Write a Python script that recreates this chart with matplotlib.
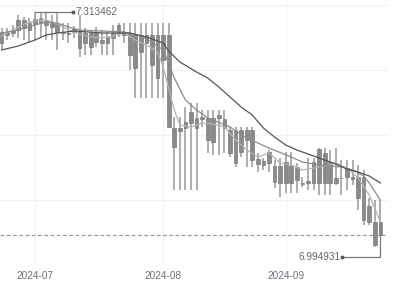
import numpy as np
import pandas as pd
import matplotlib
matplotlib.use('Agg')
import matplotlib.pyplot as plt

# 日线数据 (2024-06-21 ~ 2024-09-25, 交易日)
dates = pd.bdate_range('2024-06-21', periods=69)

opens = [7.2714, 7.2864, 7.2850, 7.2891, 7.3026, 7.2891, 7.2972, 7.2985, 7.3013, 7.2985,
         7.2972, 7.2864, 7.2850, 7.2864, 7.2864, 7.2714, 7.2850, 7.2728, 7.2755, 7.2714,
         7.2782, 7.2850, 7.2864, 7.2850, 7.2823, 7.2592, 7.2823, 7.2823, 7.2823, 7.2484,
         7.2823, 7.1562, 7.1522, 7.1562, 7.1630, 7.1698, 7.1691, 7.1698, 7.1372, 7.1698,
         7.1684, 7.1535, 7.1535, 7.1237, 7.1535, 7.1535, 7.1142, 7.1061, 7.1088, 7.1047,
         7.0817, 7.1101, 7.0817, 7.1034, 7.0817, 7.0817, 7.0817, 7.0817, 7.1223, 7.1101,
         7.0817, 7.0885, 7.0898, 7.0871, 7.0898, 7.0898, 7.0505, 7.0288, 7.0288]
closes = [7.2864, 7.2823, 7.2891, 7.3026, 7.2918, 7.2985, 7.3040, 7.3053, 7.2958, 7.2931,
          7.2864, 7.2850, 7.2843, 7.2904, 7.2647, 7.2850, 7.2660, 7.2864, 7.2714, 7.2796,
          7.2850, 7.2958, 7.2823, 7.2552, 7.2375, 7.2823, 7.2714, 7.2416, 7.2240, 7.2823,
          7.1576, 7.1305, 7.1562, 7.1644, 7.1779, 7.1562, 7.1711, 7.1400, 7.1698, 7.1738,
          7.1562, 7.1223, 7.1088, 7.1535, 7.1400, 7.1128, 7.1074, 7.1115, 7.1237, 7.0830,
          7.1047, 7.0817, 7.1047, 7.0857, 7.0803, 7.0844, 7.1101, 7.1278, 7.0817, 7.0817,
          7.0885, 7.0878, 7.1020, 7.0898, 7.0613, 7.0315, 7.0288, 6.9976, 7.0112]
lows = [7.2620, 7.2755, 7.2796, 7.2782, 7.2755, 7.2728, 7.2755, 7.2796, 7.2755, 7.2755,
        7.2620, 7.2755, 7.2714, 7.2782, 7.2525, 7.2552, 7.2552, 7.2660, 7.2552, 7.2552,
        7.2552, 7.2796, 7.2714, 7.2348, 7.1969, 7.1969, 7.1969, 7.1969, 7.1969, 7.1969,
        7.1576, 7.0722, 7.0722, 7.0722, 7.0722, 7.0722, 7.1576, 7.1223, 7.1196, 7.1196,
        7.1223, 7.1169, 7.1034, 7.1169, 7.1034, 7.1034, 7.0966, 7.0993, 7.0966, 7.0749,
        7.0627, 7.0681, 7.0681, 7.0681, 7.0762, 7.0722, 7.0722, 7.0654, 7.0654, 7.0654,
        7.0789, 7.0654, 7.0722, 7.0789, 7.0451, 7.0247, 7.0247, 6.994931, 7.0112]
highs = [7.2918, 7.2918, 7.2958, 7.3094, 7.3067, 7.3053, 7.313462, 7.3121, 7.3121, 7.3094,
         7.3121, 7.2985, 7.2985, 7.2945, 7.3094, 7.2918, 7.2891, 7.2931, 7.2891, 7.2864,
         7.2958, 7.2985, 7.2985, 7.2985, 7.2985, 7.2985, 7.2985, 7.2985, 7.2985, 7.2985,
         7.2985, 7.1711, 7.1711, 7.1847, 7.1901, 7.1901, 7.1806, 7.1806, 7.1806, 7.1806,
         7.1806, 7.1576, 7.1576, 7.1576, 7.1576, 7.1576, 7.1223, 7.1156, 7.1264, 7.1128,
         7.1156, 7.1237, 7.1237, 7.1088, 7.0898, 7.1156, 7.1156, 7.1291, 7.1291, 7.1264,
         7.1291, 7.1128, 7.1128, 7.1128, 7.1061, 7.0993, 7.0613, 7.0586, 7.0586]

# 均线 (读图取样)
ma5_idx = [0, 2, 4, 6, 8, 10, 12, 14, 16, 18, 20, 22, 24, 26, 28, 29, 30, 31, 32, 34,
           36, 38, 40, 42, 44, 46, 48, 50, 52, 54, 56, 58, 60, 62, 64, 66, 68]
ma5 = [7.2809, 7.2891, 7.2972, 7.3013, 7.3026, 7.2972, 7.2891, 7.2836, 7.2796, 7.2782,
       7.2809, 7.2850, 7.2755, 7.2687, 7.2592, 7.2389, 7.2104, 7.1806, 7.1603, 7.1576,
       7.1630, 7.1617, 7.1576, 7.1400, 7.1264, 7.1169, 7.1223, 7.1088, 7.1061, 7.0993,
       7.1020, 7.1047, 7.1088, 7.1020, 7.0885, 7.0654, 7.0288]
ma10_idx = [0, 3, 6, 8, 10, 12, 14, 18, 22, 25, 27, 29, 31, 33, 35, 37, 41, 44, 48, 52,
            54, 57, 61, 63, 65, 66, 68]
ma10 = [7.2850, 7.2891, 7.2958, 7.2999, 7.2985, 7.2931, 7.2891, 7.2877, 7.2864, 7.2809,
        7.2728, 7.2620, 7.2240, 7.1942, 7.1806, 7.1698, 7.1576, 7.1427, 7.1291, 7.1169,
        7.1101, 7.1061, 7.1034, 7.0993, 7.0912, 7.0817, 7.0586]
ma20_idx = [0, 3, 6, 8, 10, 13, 18, 23, 26, 29, 30, 32, 35, 37, 39, 41, 43, 45, 47, 49,
            51, 53, 55, 58, 60, 62, 64, 66, 68]
ma20 = [7.2620, 7.2674, 7.2755, 7.2823, 7.2850, 7.2877, 7.2850, 7.2850, 7.2796, 7.2714,
        7.2606, 7.2457, 7.2321, 7.2240, 7.2118, 7.1983, 7.1847, 7.1738, 7.1562, 7.1440,
        7.1332, 7.1264, 7.1210, 7.1128, 7.1074, 7.1006, 7.0966, 7.0912, 7.0817]

month_labels = ['2024-07', '2024-08', '2024-09']

df = pd.DataFrame({'open': opens, 'close': closes, 'low': lows, 'high': highs}, index=dates)
x = np.arange(len(df))

fig = plt.figure(figsize=(3.99, 2.93), dpi=100)
ax = fig.add_axes([0, 28 / 293, 388 / 399, 265 / 293])

# 网格
month_pos = [int(np.argmax((df.index.month == m))) for m in (7, 8, 9)]
ax.set_xlim(-0.287, 69.37)
ax.set_ylim(6.97052, 7.32973)
ax.set_yticks(np.linspace(6.97052, 7.32295, 5))
ax.set_xticks(month_pos)
ax.set_xticklabels(month_labels)
ax.grid(True, color='#f2f2f2', lw=0.8)
ax.set_axisbelow(True)
ax.tick_params(length=0, labelleft=False, labelsize=7.2, labelcolor='#6e7079', pad=4)
for lab in ax.get_xticklabels():
    lab.set_family('Liberation Sans')
for s in ax.spines.values():
    s.set_visible(False)

# K线
body_lo = np.minimum(df['open'], df['close'])
body_h = np.maximum(np.abs(df['close'] - df['open']), 0.0012)
ax.vlines(x, df['low'], df['high'], color='#a8a8a8', lw=1.3, zorder=2)
ax.bar(x, body_h, bottom=body_lo, width=0.66, color='#8a8a8a',
       edgecolor='#7a7a7a', lw=0.5, zorder=3)

# 均线
ax.plot(ma5_idx, ma5, color='#b4b4b4', lw=0.9, zorder=4)
ax.plot(ma10_idx, ma10, color='#8c8c8c', lw=0.9, zorder=4)
ax.plot(ma20_idx, ma20, color='#555555', lw=0.9, zorder=4)

# 最新价虚线
last = df['close'].iloc[-1]
ax.axhline(last, color='#9a9a9a', lw=0.9, ls=(0, (3, 2)), zorder=1)

# 最高/最低标记
hi_i = int(np.argmax(df['high']))
hi_v = df['high'].max()
ax.plot([hi_i, hi_i + 6.8], [hi_v, hi_v], color='#777777', lw=0.9, zorder=5)
ax.plot([hi_i + 6.8], [hi_v], 'o', color='#555555', ms=1.8, zorder=5)
ax.text(hi_i + 7.2, hi_v, f'{hi_v:.6f}', fontsize=7.2, color='#666666',
        family='Liberation Sans', va='center', ha='left')

lo_v = df['low'].min()
lo_y = lo_v - 0.0136
end_i = len(df) - 1
ax.plot([61.1, end_i, end_i], [lo_y, lo_y, last], color='#777777', lw=0.9, zorder=5)
ax.plot([61.1], [lo_y], 'o', color='#555555', ms=1.8, zorder=5)
ax.text(60.8, lo_y, f'{lo_v:.6f}', fontsize=7.2, color='#666666',
        family='Liberation Sans', va='center', ha='right')

fig.savefig('out.png', dpi=100)
